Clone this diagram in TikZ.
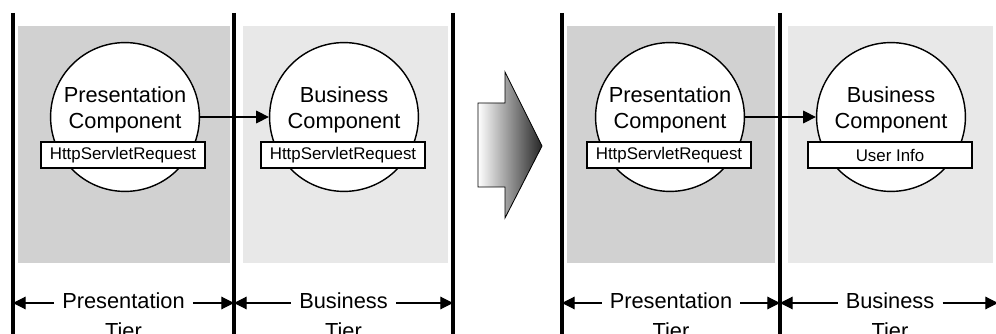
\documentclass[tikz,border=0pt]{standalone}
\usepackage{xcolor}
\usepackage{fontspec}
\setmainfont{Liberation Sans}
\usepackage{tikz}
\usetikzlibrary{shapes,arrows,arrows.meta,positioning}

\definecolor{presgray}{gray}{0.82}
\definecolor{busgray}{gray}{0.91}

\begin{document}
\begin{tikzpicture}[x=0.025cm, y=-0.025cm]
    % Define styles
    \tikzstyle{comp} = [circle, minimum size=3.72cm, draw=black, line width=1pt, fill=white, inner sep=0pt]
    \tikzstyle{comptext} = [align=center, font=\fontsize{15.5}{19}\selectfont, inner sep=0pt]
    \tikzstyle{tag} = [rectangle, minimum width=4.1cm, minimum height=0.65cm, draw=black, line width=0.8pt, fill=white, font=\fontsize{12}{14}\selectfont, inner sep=1pt]
    \tikzstyle{tierlbl} = [font=\fontsize{15.5}{19}\selectfont, text height=11.5pt, text depth=3.5pt, inner xsep=0.2cm, inner ysep=3pt]
    \tikzstyle{wall} = [line width=2.8pt]
    \tikzstyle{flow} = [-{Triangle[length=9pt,width=9pt]}, line width=0.8pt]

    \useasboundingbox (0,0) rectangle (996,334);

    % Tier backgrounds
    \fill[presgray] (18,26) rectangle (230,263);
    \fill[busgray] (243,26) rectangle (448,263);
    \fill[presgray] (567,26) rectangle (775,263);
    \fill[busgray] (788,26) rectangle (993,263);

    % Wall positions
    \coordinate (w1) at (13,13);
    \coordinate (w2) at (234,13);
    \coordinate (w3) at (453,13);
    \coordinate (w4) at (562,13);
    \coordinate (w5) at (780,13);
    \coordinate (w6) at (998,13);
    \coordinate (floor) at (0,334);

    % Components (before)
    \node[comp] (pres) at (125,117) {};
    \node[comptext] (pres_txt) at (125,110) {Presentation\\Component};
    \node[tag] (pres_tag) at (123,155) {HttpServletRequest};
    \node[comp] (bus) at (344,117) {};
    \node[comptext] (bus_txt) at (344,110) {Business\\Component};
    \node[tag] (bus_tag) at (343,155) {HttpServletRequest};

    % Components (after)
    \node[comp] (pres2) at (670,117) {};
    \node[comptext] (pres2_txt) at (670,110) {Presentation\\Component};
    \node[tag] (pres2_tag) at (669,155) {HttpServletRequest};
    \node[comp] (bus2) at (891,117) {};
    \node[comptext] (bus2_txt) at (891,110) {Business\\Component};
    \node[tag] (bus2_tag) at (890,155) {User Info};

    \draw[flow] (pres) -- (bus);
    \draw[flow] (pres2) -- (bus2);

    % Big arrow
    \shade[left color=white, right color=black!85, draw=black, line width=0.6pt]
        (478,103) -- (505,103) -- (505,72) -- (542,146) -- (505,218) -- (505,187) -- (478,187) -- cycle;

    % Tier labels
    \node[tierlbl] (pres_lbl) at (123.5,303) {Presentation};
    \node[tierlbl, below=0cm of pres_lbl] (pres_tier) {Tier};
    \node[tierlbl] (bus_lbl) at (343.5,303) {Business};
    \node[tierlbl, below=0cm of bus_lbl] (bus_tier) {Tier};
    \node[tierlbl] (pres2_lbl) at (671,303) {Presentation};
    \node[tierlbl, below=0cm of pres2_lbl] (pres2_tier) {Tier};
    \node[tierlbl] (bus2_lbl) at (890,303) {Business};
    \node[tierlbl, below=0cm of bus2_lbl] (bus2_tier) {Tier};

    \draw[flow] (pres_lbl.west) -- (pres_lbl.west -| w1);
    \draw[flow] (pres_lbl.east) -- (pres_lbl.east -| w2);
    \draw[flow] (bus_lbl.west) -- (bus_lbl.west -| w2);
    \draw[flow] (bus_lbl.east) -- (bus_lbl.east -| w3);
    \draw[flow] (pres2_lbl.west) -- (pres2_lbl.west -| w4);
    \draw[flow] (pres2_lbl.east) -- (pres2_lbl.east -| w5);
    \draw[flow] (bus2_lbl.west) -- (bus2_lbl.west -| w5);
    \draw[flow] (bus2_lbl.east) -- (bus2_lbl.east -| w6);

    % Tier walls
    \draw[wall] (w1) -- (w1 |- floor);
    \draw[wall] (w2) -- (w2 |- floor);
    \draw[wall] (w3) -- (w3 |- floor);
    \draw[wall] (w4) -- (w4 |- floor);
    \draw[wall] (w5) -- (w5 |- floor);
\end{tikzpicture}
\end{document}
